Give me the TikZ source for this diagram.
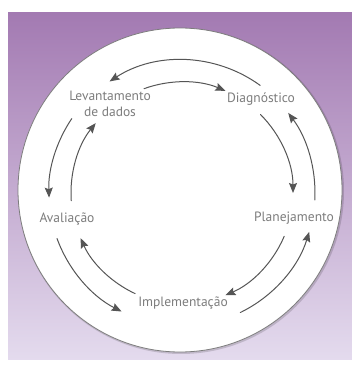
\documentclass[tikz,border=0pt]{standalone}
\usepackage{fontspec}
\setsansfont{PT Sans}
\usetikzlibrary{arrows.meta,positioning}
\definecolor{cycpurple}{RGB}{163,122,178}
\definecolor{cyclilac}{RGB}{228,219,238}
\definecolor{cycgray}{RGB}{125,125,125}
\definecolor{cycline}{RGB}{85,85,85}
\tikzset{
  every picture/.append style={line cap=round,line join=round},
  cyc label/.style={font=\sffamily\fontsize{13.5}{16}\selectfont,text=cycgray,align=center,inner sep=1pt},
  cyc arrow/.style={cycline,line width=1pt,-{Stealth[length=10pt,width=8pt,inset=1.5pt]}},
  cyc ring/.style={draw=cycgray,line width=0.8pt,fill=white}
}

\begin{document}
\begin{tikzpicture}[x=1pt,y=1pt]
  \useasboundingbox (0,0) rectangle (352,365);
  \shade[top color=cycpurple,bottom color=cyclilac] (8,5) rectangle (352,352);
  \fill[black,opacity=0.15] (181,174) circle (163);
  \draw[cyc ring] (180,175) circle (162);

  \coordinate (hub) at (182,172);
  \node[cyc label] (lev) at (110,261) {Levantamento\\de dados};
  \node[cyc label] (diag) at (261,266) {Diagnóstico};
  \node[cyc label] (plan) at (294,147) {Planejamento};
  \node[cyc label] (impl) at (183,62) {Implementação};
  \node[cyc label] (aval) at (67,146) {Avaliação};

  % outer ring, counter-clockwise
  \foreach \a/\b in {54/123,146/182,200/243,296/343,-3/37}
    \draw[cyc arrow] ([shift={(\a:133)}]hub) arc[start angle=\a,end angle=\b,radius=133];
  % inner ring, clockwise
  \foreach \a/\b in {110/67,45/0,-23/-67,245/204,184/141}
    \draw[cyc arrow] ([shift={(\a:111)}]hub) arc[start angle=\a,end angle=\b,radius=111];
\end{tikzpicture}
\end{document}
